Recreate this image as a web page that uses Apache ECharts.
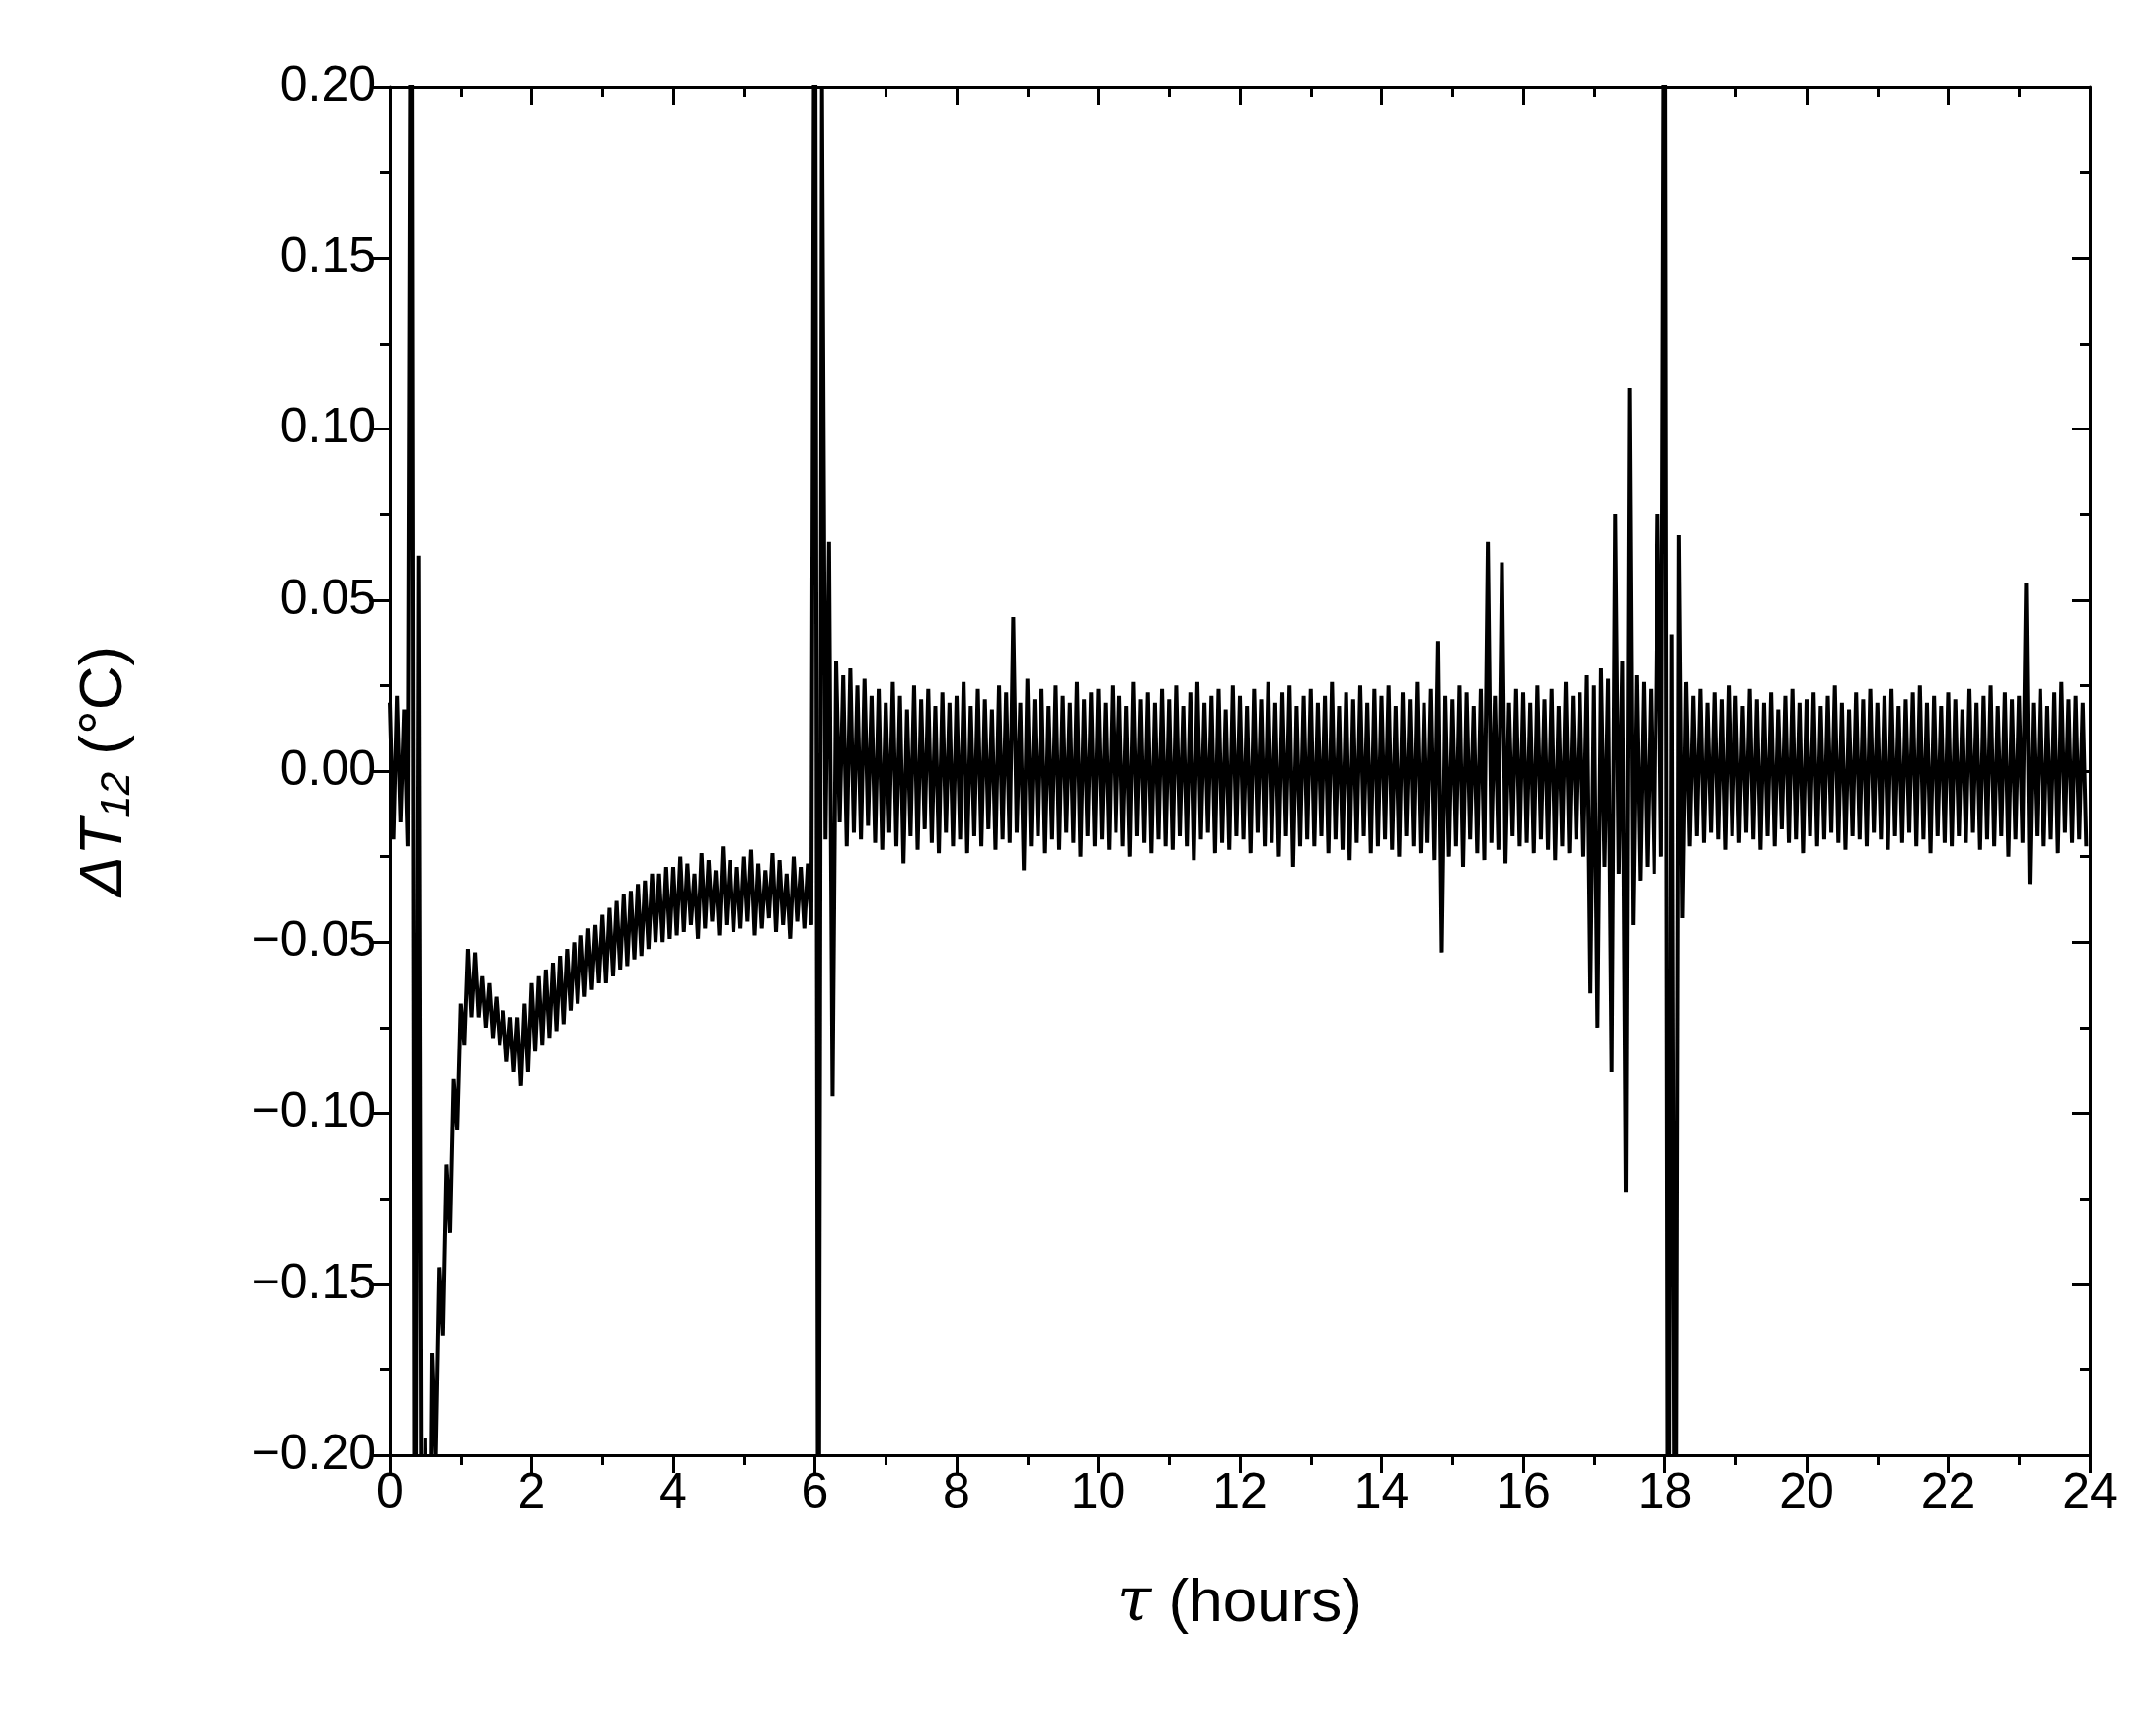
<!DOCTYPE html>
<html>
<head>
<meta charset="utf-8">
<script src="https://cdn.jsdelivr.net/npm/echarts@6/dist/echarts.min.js"></script>
<style>
  html, body { margin: 0; padding: 0; background: #fff; }
  #chart { width: 2184px; height: 1732px; }
</style>
</head>
<body>
<div id="chart"></div>
<script>
// readings every 0.1 h: upper and lower edge of the noise band, in 0.001 °C
var step = 0.1;
var hiMilli = [
  20,22,18,300,63,-195,-170,-145,-115,-90,
  -68,-52,-53,-60,-62,-66,-70,-72,-72,-68,
  -62,-60,-58,-56,-54,-52,-50,-48,-46,-45,
  -42,-40,-38,-36,-35,-33,-32,-30,-30,-28,
  -28,-25,-27,-30,-24,-26,-29,-22,-26,-28,
  -25,-23,-27,-29,-24,-26,-30,-25,-28,-27,
  300,200,67,32,28,30,25,27,22,24,
  20,26,22,18,25,21,24,19,23,20,
  22,26,19,24,21,18,25,23,45,20,
  27,21,24,19,25,22,20,26,21,23,
  24,20,25,22,19,26,21,23,20,24,
  21,25,19,23,26,20,22,24,18,25,
  22,19,24,21,26,20,23,25,19,22,
  24,20,22,26,19,23,21,25,20,24,
  22,25,19,23,21,26,20,24,38,22,
  21,25,23,19,24,67,22,61,20,24,
  23,20,25,21,24,19,26,22,23,28,
  25,30,27,75,32,112,28,26,24,75,
  300,40,69,26,22,24,20,23,21,25,
  22,19,24,21,20,23,18,22,24,20,
  21,23,19,22,25,20,18,23,21,24,
  20,22,24,19,21,23,25,20,22,19,
  23,21,18,24,20,22,25,19,23,21,
  22,55,20,24,19,23,26,21,22,20
];
var loMilli = [
  -20,-15,-22,-300,-300,-300,-200,-165,-135,-105,
  -80,-72,-72,-75,-78,-80,-85,-88,-92,-88,
  -82,-80,-78,-76,-74,-70,-68,-66,-64,-62,
  -62,-60,-58,-57,-55,-54,-52,-50,-50,-49,
  -48,-47,-45,-49,-46,-44,-48,-45,-47,-46,
  -44,-48,-46,-43,-47,-45,-49,-44,-46,-45,
  -300,-20,-95,-15,-22,-18,-20,-16,-21,-23,
  -18,-22,-27,-19,-23,-17,-21,-24,-18,-22,
  -20,-24,-19,-22,-17,-23,-20,-21,-18,-29,
  -22,-19,-24,-20,-23,-18,-21,-25,-19,-22,
  -20,-23,-18,-22,-25,-19,-21,-24,-20,-22,
  -23,-19,-22,-26,-20,-18,-24,-21,-23,-19,
  -20,-24,-18,-22,-21,-25,-19,-28,-22,-20,
  -22,-19,-24,-20,-23,-26,-21,-19,-24,-22,
  -20,-23,-25,-19,-22,-24,-21,-26,-53,-25,
  -22,-28,-20,-24,-26,-21,-23,-27,-19,-22,
  -21,-24,-20,-23,-26,-22,-24,-20,-25,-65,
  -75,-28,-88,-30,-123,-45,-32,-28,-30,-25,
  -300,-300,-43,-22,-19,-21,-18,-20,-23,-19,
  -21,-18,-20,-23,-19,-22,-17,-21,-20,-24,
  -19,-22,-20,-18,-21,-23,-19,-20,-22,-18,
  -20,-23,-19,-21,-18,-22,-20,-24,-19,-21,
  -22,-19,-21,-18,-23,-20,-22,-19,-25,-20,
  -21,-33,-19,-22,-20,-24,-18,-21,-20,-22
];

var data = [];
for (var i = 0; i < hiMilli.length; i++) {
  var t = i * step;
  data.push([t, hiMilli[i] / 1000]);
  data.push([t + step / 2, loMilli[i] / 1000]);
}

var font = 'Liberation Sans, Arial, sans-serif';
var labelStyle = { fontSize: 50, color: '#000', fontFamily: font };
var axisLine = { onZero: false, lineStyle: { color: '#000', width: 3 } };
function ticks(inside) {
  return {
    axisTick: { inside: inside, length: 18, lineStyle: { color: '#000', width: 3 } },
    minorTick: { show: true, splitNumber: 2, length: 10, lineStyle: { color: '#000', width: 3 } }
  };
}

var chart = echarts.init(document.getElementById('chart'));
chart.setOption({
  backgroundColor: '#fff',
  animation: false,
  grid: { left: 395, right: 67, top: 88, bottom: 258 },
  xAxis: [Object.assign({
    type: 'value', min: 0, max: 24, interval: 2,
    axisLine: axisLine, splitLine: { show: false },
    axisLabel: Object.assign({ margin: 14 }, labelStyle),
    name: '{i|τ} (hours)', nameLocation: 'middle', nameGap: 120,
    nameTextStyle: { fontSize: 62, color: '#000', fontFamily: font,
      rich: { i: { fontSize: 62, fontStyle: 'italic', fontFamily: 'DejaVu Serif' } } }
  }, ticks(false)), Object.assign({
    type: 'value', min: 0, max: 24, interval: 2, position: 'top',
    axisLine: axisLine, splitLine: { show: false }, axisLabel: { show: false }
  }, ticks(true))],
  yAxis: [Object.assign({
    type: 'value', min: -0.2, max: 0.2, interval: 0.05,
    axisLine: axisLine, splitLine: { show: false },
    axisLabel: Object.assign({ margin: 14, formatter: function (v) {
      return v.toFixed(2).replace('-', '\u2212');
    } }, labelStyle),
    name: '{i|ΔT}{s|12} (\u00B0C)', nameLocation: 'middle', nameGap: 255, nameRotate: 90,
    nameTextStyle: { fontSize: 62, color: '#000', fontFamily: font,
      rich: {
        i: { fontSize: 62, fontStyle: 'italic', fontFamily: font },
        s: { fontSize: 42, fontStyle: 'italic', fontFamily: font, verticalAlign: 'bottom', padding: [26, 0, 0, 0] }
      } }
  }, ticks(false)), Object.assign({
    type: 'value', min: -0.2, max: 0.2, interval: 0.05, position: 'right',
    axisLine: axisLine, splitLine: { show: false }, axisLabel: { show: false }
  }, ticks(true))],
  series: [{
    type: 'line', data: data, showSymbol: false, clip: true,
    lineStyle: { color: '#000', width: 4 }
  }]
});
</script>
</body>
</html>
